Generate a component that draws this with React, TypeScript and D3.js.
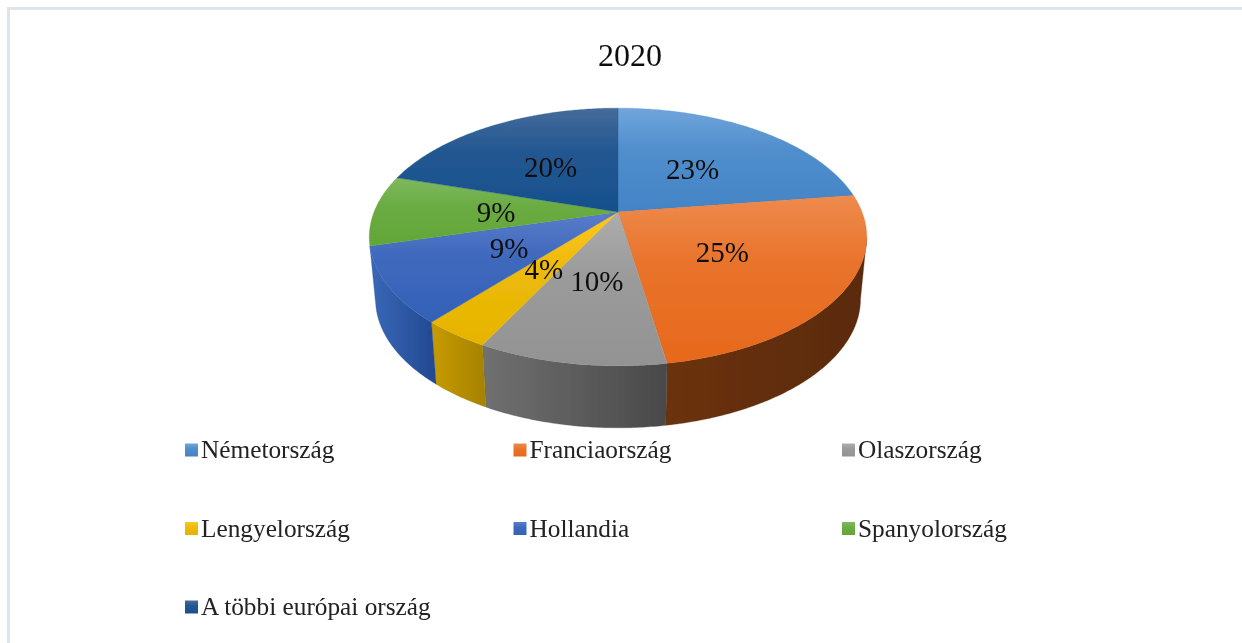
import React from "react";
import * as d3 from "d3";

const title = "2020";
const categories = ["Németország", "Franciaország", "Olaszország", "Lengyelország", "Hollandia", "Spanyolország", "A többi európai ország"];
const shares = [22.8, 24.6, 10.2, 3.7, 9.49, 8.9, 20.3];
const topLight = ["#70a5db", "#ee8b4e", "#adadad", "#ffc722", "#5a7cca", "#7fb960", "#466b9b"];
const topDark = ["#4384c6", "#e7691c", "#939393", "#e6b400", "#3361b8", "#62a637", "#15508d"];
const wallLight = ["#4384c6", "#6b310b", "#707070", "#c79b02", "#3a68b8", "#62a637", "#15508d"];
const wallDark = ["#2f6294", "#5a2b0c", "#494949", "#a78301", "#234b93", "#4d8a2a", "#0f3a68"];
const legendColumns = 3;

const W = 1242, H = 643;
const CX = 618, CY = 212, A = 244, B = 124, K = 0.194;
const DEPTH = 62, SHRINK = 0.975;
const MIN_WALL_FRACTION = 0.35;

const project = (angle: number, r = 1): [number, number] => {
  const u = Math.sin(angle) * r, v = -Math.cos(angle) * r;
  const w = 1 - K * v;
  return [CX + (A * u) / w, CY + (B * v) / w];
};
const projectBottom = (angle: number): [number, number] => {
  const [x, y] = project(angle);
  return [CX + (x - CX) * SHRINK, y + DEPTH];
};

const slices = d3.pie<number>().sort(null)(shares);
const line = d3.line().curve(d3.curveLinear);
const sampleAngles = (a0: number, a1: number) => {
  const n = Math.max(2, Math.ceil((a1 - a0) / 0.01));
  return d3.range(n + 1).map((i) => a0 + ((a1 - a0) * i) / n);
};

// silhouette tangents of the projected rim, found numerically
const allAngles = sampleAngles(0, 2 * Math.PI);
const rightAngle = allAngles[d3.greatestIndex(allAngles, (a) => project(a)[0])];
const leftAngle = allAngles[d3.leastIndex(allAngles, (a) => project(a)[0])];

const legendX = d3.scaleLinear().domain([0, 1]).range([185, 513.5]);
const legendY = d3.scaleLinear().domain([0, 1]).range([450, 528.5]);

export default function App() {
  const fontFamily = "'Liberation Serif', 'Times New Roman', serif";
  return (
    <svg width={W} height={H} viewBox={`0 0 ${W} ${H}`} style={{ position: "absolute", left: 0, top: 0, background: "#fff" }} fontFamily={fontFamily}>
      <defs>
        <filter id="soft" x="-5%" y="-5%" width="110%" height="110%">
          <feGaussianBlur stdDeviation="0.45" />
        </filter>
        {slices.map((s, i) => {
          const aStart = Math.max(s.startAngle, rightAngle);
          const aEnd = Math.min(s.endAngle, leftAngle);
          const x0 = aEnd > aStart ? project(aStart)[0] : 0;
          const x1 = aEnd > aStart ? project(aEnd)[0] : 1;
          const leftX = Math.min(x0, x1), rightX = Math.max(x0, x1);
          return (
            <React.Fragment key={i}>
              <linearGradient id={`top${i}`} x1={0} x2={0} y1={0} y2={1}>
                <stop offset="0" stopColor={topLight[i]} />
                <stop offset="0.4" stopColor={d3.interpolateRgb(topLight[i], topDark[i])(0.7)} />
                <stop offset="1" stopColor={topDark[i]} />
              </linearGradient>
              <linearGradient id={`wall${i}`} gradientUnits="userSpaceOnUse" x1={leftX} x2={rightX} y1={0} y2={0}>
                <stop offset="0" stopColor={wallLight[i]} />
                <stop offset="1" stopColor={wallDark[i]} />
              </linearGradient>
            </React.Fragment>
          );
        })}
      </defs>
      <g filter="url(#soft)">
        <rect x={8.5} y={8.5} width={W} height={H} fill="none" stroke="#dfe4ec" strokeWidth={3} />
        <text x={630} y={66} fontSize={32} textAnchor="middle" fill="#111">{title}</text>
        {slices.map((s, i) => {
          const a0 = Math.max(s.startAngle, rightAngle);
          const a1 = Math.min(s.endAngle, leftAngle);
          if (a1 <= a0 || (a1 - a0) / (s.endAngle - s.startAngle) < MIN_WALL_FRACTION) return null;
          const angles = sampleAngles(a0, a1);
          const pts = [...angles.map((a) => project(a)), ...angles.slice().reverse().map((a) => projectBottom(a))];
          return <path key={`w${i}`} d={line(pts) + "Z"} fill={`url(#wall${i})`} stroke={wallDark[i]} strokeWidth={0.3} />;
        })}
        {slices.map((s, i) => {
          const pts: [number, number][] = [[CX, CY], ...sampleAngles(s.startAngle, s.endAngle).map((a) => project(a))];
          return <path key={`t${i}`} d={line(pts) + "Z"} fill={`url(#top${i})`} stroke={topDark[i]} strokeWidth={0.3} />;
        })}
        {slices.map((s, i) => {
          const [x, y] = project((s.startAngle + s.endAngle) / 2, 0.5);
          return (
            <text key={`l${i}`} x={x} y={y + 11} fontSize={29} textAnchor="middle" fill="#111">
              {Math.round(shares[i])}%
            </text>
          );
        })}
        {categories.map((c, i) => {
          const col = i % legendColumns, row = Math.floor(i / legendColumns);
          const x = legendX(col), y = legendY(row);
          return (
            <g key={c}>
              <rect x={x} y={y - 6.5} width={13} height={13} fill={`url(#top${i})`} />
              <text x={x + 16} y={y + 8} fontSize={25.3} fill="#222">{c}</text>
            </g>
          );
        })}
      </g>
    </svg>
  );
}
